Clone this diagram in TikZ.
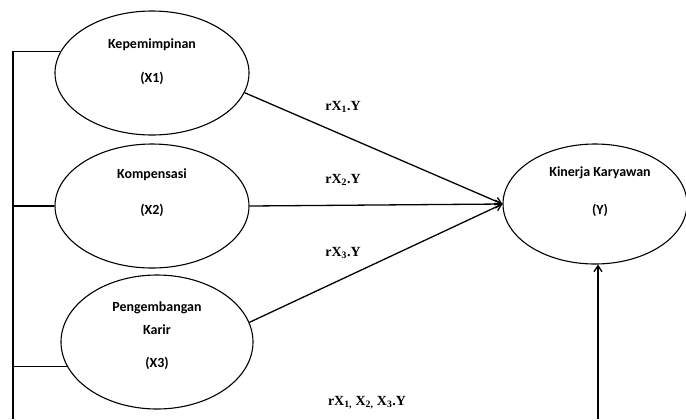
\documentclass[tikz,border=0pt]{standalone}
\usepackage{fontspec}
\setmainfont{Liberation Serif}
\newfontfamily\calibri{Carlito}
\usetikzlibrary{calc,positioning,arrows.meta,shapes.geometric}
\tikzset{
    var/.style = {
        draw,
        ellipse,
        line width=1.1bp,
        inner sep=0pt,
        minimum width=194bp,
        minimum height=124bp,
        },
    var text/.style = {
        font=\calibri\bfseries\fontsize{14}{16}\selectfont,
        },
    coef/.style = {
        font=\bfseries\fontsize{14}{16}\selectfont,
        },
    link/.style = {
        line width=1.3bp,
        },
    path arrow/.style = {
        link,
        -{Straight Barb[length=6bp,width=8bp]},
        },
}

\begin{document}
\begin{tikzpicture}[x=1bp,y=-1bp]
            \useasboundingbox (0,0) rectangle (686,419);

            \node[var] (x1) at (152,73) {};
            \node[var] (x2) at (152,206) {};
            \node[var, minimum width=192bp, minimum height=134bp] (x3) at (157,342) {};
            \node[var, minimum width=184bp, minimum height=120bp] (kinerja) at (595,204) {};

            \node[var text] (x1 name) at ($(x1)+(0,-28)$) {Kepemimpinan};
            \node[var text] (x1 code) at ($(x1)+(0,5)$) {(X1)};
            \node[var text] (x2 name) at ($(x2)+(0,-31)$) {Kompensasi};
            \node[var text] (x2 code) at ($(x2)+(0,4)$) {(X2)};
            \node[var text] (x3 name) at ($(x3)+(0,-34)$) {Pengembangan};
            \node[var text] (x3 name2) at ($(x3)+(0,-12)$) {Karir};
            \node[var text] (x3 code) at ($(x3)+(0,21)$) {(X3)};
            \node[var text] (kinerja name) at ($(kinerja)+(5,-31)$) {Kinerja Karyawan};
            \node[var text] (kinerja code) at ($(kinerja)+(5,6)$) {(Y)};

            \node[coef] (r1) at (343,107) {rX\textsubscript{1}.Y};
            \node[coef] (r2) at (343,180) {rX\textsubscript{2}.Y};
            \node[coef] (r3) at (343,253) {rX\textsubscript{3}.Y};
            \node[coef] (r123) at (367,403) {rX\textsubscript{1,} X\textsubscript{2,} X\textsubscript{3}.Y};

            \coordinate (left end) at (13,419);
            \coordinate (right end) at (598,419);

            % bus on the left
            \draw[link] (x1.167) -| (left end);
            \draw[link] (x2.west) -- (x2.west -| left end);
            \draw[link] (x3.195) -- (x3.195 -| left end);

            \draw[path arrow] (x1.348) -- (kinerja.west);
            \draw[path arrow] (x2.east) -- (kinerja.west);
            \draw[path arrow] (x3.12) -- (kinerja.west);
            \draw[path arrow] (right end) -- (right end |- kinerja.south);
        \end{tikzpicture}
\end{document}
